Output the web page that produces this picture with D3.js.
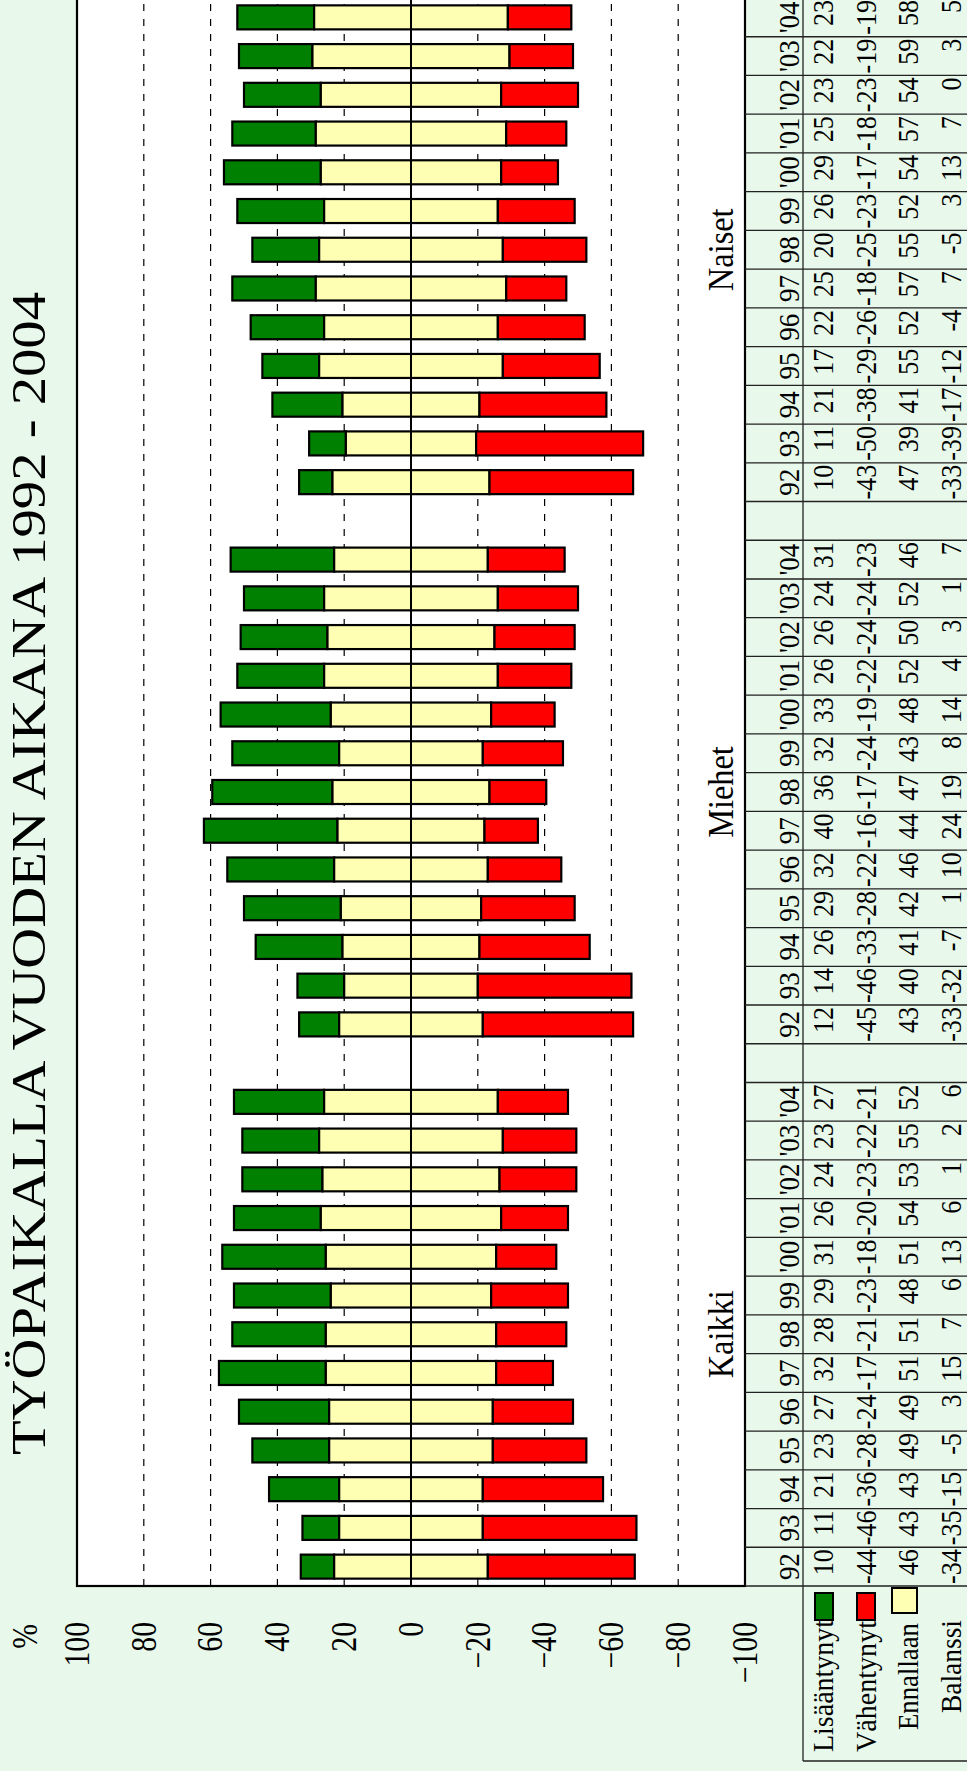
<!DOCTYPE html>
<html><head><meta charset="utf-8">
<script src="https://cdn.jsdelivr.net/npm/d3@7/dist/d3.min.js"></script>
<style>html,body{margin:0;padding:0;background:#e8f8ea;overflow:hidden}</style>
</head><body>
<svg id="c" width="967" height="1771"></svg>
<script>
// ---- data ----
const years = ["92","93","94","95","96","97","98","99","'00","'01","'02","'03","'04"];
const groups = ["Kaikki","Miehet","Naiset"];
const rowLabels = ["Lisääntynyt","Vähentynyt","Ennallaan","Balanssi"];
const valueTicks = [100,80,60,40,20,0,-20,-40,-60,-80,-100];
const gridValues = [80,60,40,20,-20,-40,-60,-80];
const titleText = "TYÖPAIKALLA VUODEN AIKANA 1992 - 2004";

const kaikkiLis = [10,11,21,23,27,32,28,29,31,26,24,23,27];
const kaikkiVah = [-44,-46,-36,-28,-24,-17,-21,-23,-18,-20,-23,-22,-21];
const kaikkiEnn = [46,43,43,49,49,51,51,48,51,54,53,55,52];
const kaikkiBal = [-34,-35,-15,-5,3,15,7,6,13,6,1,2,6];

const miehetLis = [12,14,26,29,32,40,36,32,33,26,26,24,31];
const miehetVah = [-45,-46,-33,-28,-22,-16,-17,-24,-19,-22,-24,-24,-23];
const miehetEnn = [43,40,41,42,46,44,47,43,48,52,50,52,46];
const miehetBal = [-33,-32,-7,1,10,24,19,8,14,4,3,1,7];

const naisetLis = [10,11,21,17,22,25,20,26,29,25,23,22,23];
const naisetVah = [-43,-50,-38,-29,-26,-18,-25,-23,-17,-18,-23,-19,-19];
const naisetEnn = [47,39,41,55,52,57,55,52,54,57,54,59,58];
const naisetBal = [-33,-39,-17,-12,-4,7,-5,3,13,7,0,3,5];

const series = {
  Kaikki: [kaikkiLis, kaikkiVah, kaikkiEnn, kaikkiBal],
  Miehet: [miehetLis, miehetVah, miehetEnn, miehetBal],
  Naiset: [naisetLis, naisetVah, naisetEnn, naisetBal]
};

// ---- build rows ----
const keys = [];
const rows = [];
groups.forEach((g, gi) => {
  years.forEach((yr, i) => {
    const k = g + "-" + i;
    keys.push(k);
    const s = series[g];
    rows.push({key: k, group: g, year: yr, lis: s[0][i], vah: s[1][i], enn: s[2][i], bal: s[3][i]});
  });
  if (gi < groups.length - 1) keys.push("gap-" + gi);
});

const W = 1771; // landscape frame width
const FONT = "'Liberation Serif','Times New Roman',serif";
const svg = d3.select("#c");
svg.append("rect").attr("width", 967).attr("height", 1771).attr("fill", "#e8f8ea");
const root = svg.append("g").attr("transform", `translate(0,${W}) rotate(-90)`);

const x = d3.scaleBand().domain(keys).range([185, 1773]).padding(0);
const y = d3.scaleLinear().domain([-100, 100]).range([745, 77]);
const bw = x.bandwidth();

function txt(g, X, Y, s, size, sx, anchor) {
  return g.append("text")
    .attr("transform", `translate(${X},${Y}) scale(${sx},1)`)
    .attr("font-family", FONT).attr("font-size", size)
    .attr("text-anchor", anchor || "start").attr("fill", "#000").text(s);
}

// title
root.append("text").attr("x", 316).attr("y", 45)
  .attr("font-family", FONT).attr("font-size", 48)
  .attr("textLength", 1163).attr("lengthAdjust", "spacingAndGlyphs")
  .text(titleText);

// plot background
root.append("rect").attr("x", 185).attr("y", 77).attr("width", 1588).attr("height", 668).attr("fill", "#fff");

// grid
root.append("g").selectAll("line").data(gridValues).join("line")
  .attr("x1", 185).attr("x2", 1773).attr("y1", d => y(d)).attr("y2", d => y(d))
  .attr("stroke", "#000").attr("stroke-width", 1.2).attr("stroke-dasharray", "7,8");

// bars
const bars = root.append("g").attr("stroke", "#000").attr("stroke-width", 2.2);
const bx = d => x(d.key) + bw * 0.19, bW = bw * 0.62;
bars.selectAll("rect.g").data(rows).join("rect").attr("class", "g")
  .attr("x", bx).attr("width", bW)
  .attr("y", d => y(d.enn / 2 + d.lis)).attr("height", d => y(d.enn / 2) - y(d.enn / 2 + d.lis))
  .attr("fill", "#008000");
bars.selectAll("rect.y").data(rows).join("rect").attr("class", "y")
  .attr("x", bx).attr("width", bW)
  .attr("y", d => y(d.enn / 2)).attr("height", d => y(-d.enn / 2) - y(d.enn / 2))
  .attr("fill", "#ffffb3");
bars.selectAll("rect.r").data(rows).join("rect").attr("class", "r")
  .attr("x", bx).attr("width", bW)
  .attr("y", d => y(-d.enn / 2)).attr("height", d => y(-d.enn / 2 + d.vah) - y(-d.enn / 2))
  .attr("fill", "#ff0000");

// zero line
root.append("line").attr("x1", 185).attr("x2", 1773).attr("y1", y(0)).attr("y2", y(0))
  .attr("stroke", "#000").attr("stroke-width", 2);

// plot border
root.append("rect").attr("x", 185).attr("y", 77).attr("width", 1588).attr("height", 668)
  .attr("fill", "none").attr("stroke", "#000").attr("stroke-width", 2.2);

// group labels
groups.forEach(g => {
  const first = x(g + "-0"), last = x(g + "-" + (years.length - 1)) + bw;
  txt(root, (first + last) / 2, 733, g, 36, 0.9, "middle");
});

// value axis
const ax = root.append("g").attr("transform", "translate(185,0)")
  .call(d3.axisLeft(y).tickValues(valueTicks).tickSize(0).tickPadding(36).tickFormat(d3.format("d")));
ax.select(".domain").remove();
ax.selectAll("text").attr("font-family", FONT).attr("font-size", 35).attr("fill", "#000")
  .attr("transform", "scale(0.85,1)").attr("x", -36 / 0.85);
txt(root, 147, 37, "%", 35, 0.85, "end");

// table
const tg = root.append("g");
const colBounds = keys.map(k => x(k)).concat([x(keys[keys.length - 1]) + bw]);
tg.selectAll("line.c").data(colBounds).join("line").attr("class", "c")
  .attr("x1", d => d).attr("x2", d => d).attr("y1", 745).attr("y2", 975)
  .attr("stroke", "#222").attr("stroke-width", 1.3);
tg.append("line").attr("x1", 10).attr("x2", 1773).attr("y1", 803).attr("y2", 803)
  .attr("stroke", "#222").attr("stroke-width", 1.3);
tg.append("line").attr("x1", 10).attr("x2", 10).attr("y1", 803).attr("y2", 975)
  .attr("stroke", "#222").attr("stroke-width", 1.3);

// header years
rows.forEach(d => txt(tg, x(d.key) + bw / 2, 799, d.year, 30, 0.9, "middle"));

// values
const rowBase = [833, 876, 918, 961];
const fields = ["lis", "vah", "enn", "bal"];
rows.forEach(d => {
  fields.forEach((f, i) => txt(tg, x(d.key) + bw - 2, rowBase[i], String(d[f]), 30, 0.87, "end"));
});

// row labels with legend keys
const labelPos = [[19, 132], [19, 131], [41, 107], [58, 93]];
rowLabels.forEach((l, i) => {
  tg.append("text").attr("x", labelPos[i][0]).attr("y", rowBase[i])
    .attr("font-family", FONT).attr("font-size", 30)
    .attr("textLength", labelPos[i][1]).attr("lengthAdjust", "spacingAndGlyphs").text(l);
});
const keyRects = [
  {x: 151, y: 815, w: 27, h: 18, c: "#008000"},
  {x: 151, y: 857, w: 27, h: 18, c: "#ff0000"},
  {x: 158, y: 892, w: 25, h: 25, c: "#ffffb3"}
];
tg.selectAll("rect.k").data(keyRects).join("rect").attr("class", "k")
  .attr("x", d => d.x).attr("y", d => d.y).attr("width", d => d.w).attr("height", d => d.h)
  .attr("fill", d => d.c).attr("stroke", "#000").attr("stroke-width", 2);
</script>
</body></html>
